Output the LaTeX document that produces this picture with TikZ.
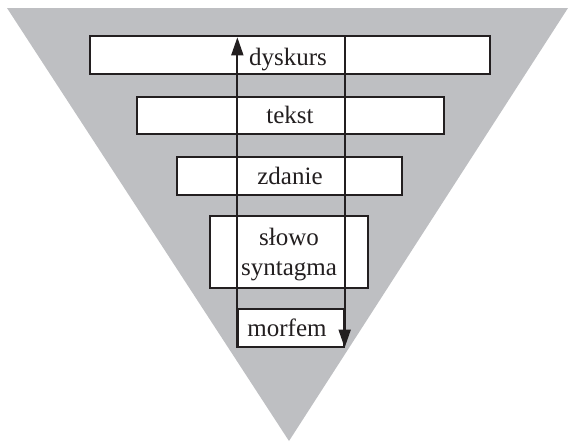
\documentclass[tikz,border=0pt]{standalone}
\usepackage{fontspec}
\setmainfont{Liberation Serif}
\usetikzlibrary{arrows.meta}
\definecolor{funnel}{RGB}{190,191,194}
\definecolor{ink}{RGB}{35,31,32}
\tikzset{
  level/.style={draw=ink, fill=white, line width=1.3pt, inner sep=0pt},
  word/.style={text=ink, inner sep=0pt, font=\fontsize{25}{30}\selectfont},
  flow/.style={draw=ink, line width=1.8pt, -{Triangle[length=18pt,width=12pt]}}
}
\begin{document}
\begin{tikzpicture}[x=1pt, y=-1pt]
  \useasboundingbox (0,0) rectangle (570,442);
  % funnel
  \fill[funnel] (7,8) -- (568,8) -- (289,441) -- cycle;
  % levels
  \node[level, minimum width=400pt, minimum height=38pt] (dysk) at (290,55) {};
  \node[level, minimum width=307pt, minimum height=37pt] (tekst) at (290.5,115.5) {};
  \node[level, minimum width=225pt, minimum height=38pt] (zdan) at (289.5,176) {};
  \node[level, minimum width=158pt, minimum height=72pt] (slowo) at (289,252) {};
  \node[level, minimum width=106pt, minimum height=38pt] (morf) at (291,328) {};
  % labels
  \node[word, anchor=base] (tdysk) at (288,65) {dyskurs};
  \node[word, anchor=base] (ttekst) at (290,123) {tekst};
  \node[word, anchor=base] (tzdan) at (290,184) {zdanie};
  \node[word, anchor=base] (tslowo) at (289,245) {słowo};
  \node[word, anchor=base] (tsynt) at (289,275) {syntagma};
  \node[word, anchor=base] (tmorf) at (287,336) {morfem};
  % direction arrows
  \coordinate (upTop) at ([yshift=-2pt]morf.south west |- dysk.north);
  \coordinate (downTop) at (morf.south east |- dysk.north);
  \draw[flow] (morf.south west) -- (upTop);
  \draw[flow] (downTop) -- (morf.south east);
\end{tikzpicture}
\end{document}
